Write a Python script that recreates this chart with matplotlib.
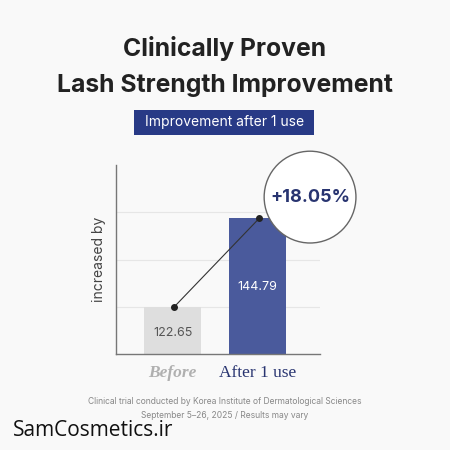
import numpy as np
import matplotlib.pyplot as plt
from matplotlib.patches import Circle, Rectangle

# --- data ---
categories = ['Before', 'After 1 use']
values = [122.65, 144.79]
value_labels = ['122.65', '144.79']
increase_label = '+18.05%'

bg = '#f9f9f9'
navy = '#4a5a9c'
dark_navy = '#283a86'

fig = plt.figure(figsize=(4.5, 4.5), dpi=100, facecolor=bg)
ax = fig.add_axes([0.258, 0.213, 0.453, 0.42], facecolor=bg)

ymin, ymax = 110.8, 158.1
x = np.arange(len(categories))
bars = ax.bar(x, values, width=0.67, bottom=0, color=['#dedede', navy], zorder=2)
ax.set_ylim(ymin, ymax)
ax.set_xlim(-0.665, 1.735)

# grid lines
ax.set_yticks(ymin + (ymax - ymin) * np.array([0.25, 0.5, 0.75]))
ax.yaxis.grid(True, color='#e6e6e6', linewidth=0.8, zorder=0)
ax.tick_params(left=False, labelleft=False, bottom=False)
for s in ['top', 'right']:
    ax.spines[s].set_visible(False)
for s in ['left', 'bottom']:
    ax.spines[s].set_color('#777777')
    ax.spines[s].set_linewidth(1.0)

ax.set_xticks(x)
ax.set_xticklabels([])
ax.text(0, ymin - 4.6, categories[0], ha='center', va='center', fontsize=12.5,
        family='Liberation Serif', style='italic', color='#b0b0b0', fontweight='bold')
ax.text(1, ymin - 4.6, categories[1], ha='center', va='center', fontsize=12.5,
        family='Liberation Serif', color='#283470')

ax.set_ylabel('increased by', fontsize=10, color='#444444', family='Inter', labelpad=7)

# value labels inside bars
ax.text(0, ymin + (values[0] - ymin) * 0.45, value_labels[0], ha='center', va='center',
        fontsize=9, color='#555555', family='Inter')
ax.text(1, values[1] - 17.3, value_labels[1], ha='center', va='center',
        fontsize=9, color='white', family='Inter')

# connecting line with dots
ax.plot(x + 0.02, values, color='#333333', linewidth=0.8, zorder=3)
ax.scatter(x + 0.02, values, s=16, color='#222222', zorder=4)

# circle callout
circ = Circle((0.689, 0.562), 0.102, transform=fig.transFigure, facecolor='white',
              edgecolor='#666666', linewidth=1.0, zorder=5)
fig.patches.append(circ)
fig.text(0.689, 0.562, increase_label, ha='center', va='center', fontsize=13,
         fontweight='bold', color='#283470', family='Inter', zorder=6)

# titles
fig.text(0.5, 0.893, 'Clinically Proven', ha='center', va='center', fontsize=17.8,
         fontweight='bold', color='#222222', family='Inter')
fig.text(0.5, 0.811, 'Lash Strength Improvement', ha='center', va='center', fontsize=17.8,
         fontweight='bold', color='#222222', family='Inter')

badge = Rectangle((134 / 450, 1 - 135 / 450), 180 / 450, 25 / 450, transform=fig.transFigure,
                  facecolor=dark_navy, edgecolor='none', zorder=2)
fig.patches.append(badge)
fig.text(0.5, 1 - 122.5 / 450, 'Improvement after 1 use', ha='center', va='center',
         fontsize=10, color='white', family='Inter', zorder=3)

# footnote
fig.text(0.5, 1 - 402 / 450, 'Clinical trial conducted by Korea Institute of Dermatological Sciences',
         ha='center', va='center', fontsize=6.1, color='#888888', family='Inter')
fig.text(0.5, 1 - 415 / 450, 'September 5\u201326, 2025 / Results may vary',
         ha='center', va='center', fontsize=6.1, color='#888888', family='Inter')

# watermark
fig.text(13 / 450, 1 - 430 / 450, 'SamCosmetics.ir', ha='left', va='center', fontsize=15,
         color='#111111', family='Open Sans')

fig.savefig('out.png', dpi=100, facecolor=bg)
